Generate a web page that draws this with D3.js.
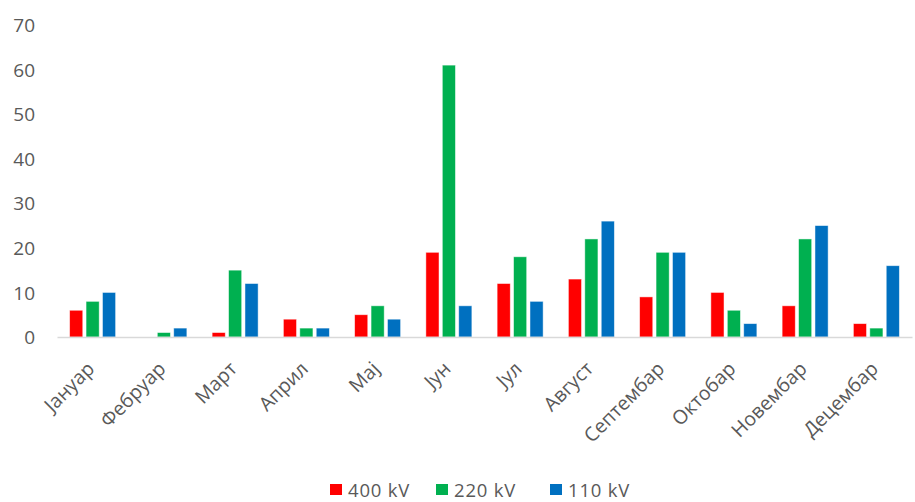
<!DOCTYPE html>
<html>
<head>
<meta charset="utf-8">
<script src="https://cdn.jsdelivr.net/npm/d3@7"></script>
<style>
  html, body { margin: 0; padding: 0; background: #fff; }
  svg text { font-family: "Open Sans", "Noto Sans", Arial, sans-serif; fill: #595959; }
</style>
</head>
<body>
<svg id="chart" width="915" height="502"></svg>
<script>
// Months (Serbian Cyrillic)
const months = ["Јануар", "Фебруар", "Март", "Април", "Мај", "Јун", "Јул", "Август", "Септембар", "Октобар", "Новембар", "Децембар"];
// Counts per voltage level
const kv400 = [6, 0, 1, 4, 5, 19, 12, 13, 9, 10, 7, 3];
const kv220 = [8, 1, 15, 2, 7, 61, 18, 22, 19, 6, 22, 2];
const kv110 = [10, 2, 12, 2, 4, 7, 8, 26, 19, 3, 25, 16];
const seriesNames = ["400 kV", "220 kV", "110 kV"];
const seriesColors = ["#FF0000", "#00B050", "#0070C0"];
const yTicks = [0, 10, 20, 30, 40, 50, 60, 70];

const seriesValues = [kv400, kv220, kv110];
const svg = d3.select("#chart");
const margin = { left: 57, right: 3, top: 25, bottom: 165 };
const W = 915, H = 502;

const x = d3.scaleBand().domain(months).range([margin.left, W - margin.right]).paddingInner(0).paddingOuter(0);
const y = d3.scaleLinear().domain([0, 70]).range([H - margin.bottom, margin.top]);
const groupW = 46;
const xs = d3.scaleBand().domain(seriesNames).range([0, groupW]).paddingInner(0.2);

// y axis labels (no axis line)
const yAxis = svg.append("g").attr("transform", `translate(${margin.left - 22},0)`)
  .call(d3.axisLeft(y).tickValues(yTicks).tickSize(0).tickPadding(0));
yAxis.select(".domain").remove();
yAxis.selectAll("text").style("font-size", "19px").style("font-family", "Open Sans, sans-serif").attr("fill", "#595959").attr("dy", "0.35em");

// bars
const groups = svg.append("g").selectAll("g").data(months).join("g")
  .attr("transform", d => `translate(${x(d) + x.bandwidth() / 2 - groupW / 2},0)`);
groups.selectAll("rect")
  .data((m, i) => seriesNames.map((s, k) => ({ s, k, v: seriesValues[k][i] })))
  .join("rect")
  .filter(d => d.v > 0)
  .attr("x", d => xs(d.s))
  .attr("width", xs.bandwidth())
  .attr("y", d => y(d.v))
  .attr("height", d => y(0) - y(d.v))
  .attr("fill", d => seriesColors[d.k])
  .attr("stroke", "#ffffff")
  .attr("stroke-opacity", 0.6)
  .attr("stroke-width", 0.8);

// x axis
const xAxis = svg.append("g").attr("transform", `translate(0,${y(0)})`)
  .call(d3.axisBottom(x).tickSize(0).tickPadding(0));
xAxis.select(".domain").attr("stroke", "#d9d9d9").attr("stroke-width", 1.5);
xAxis.selectAll("text")
  .style("font-size", "19.5px")
  .style("font-family", "Open Sans, sans-serif")
  .attr("text-anchor", "end")
  .attr("dy", null)
  .attr("transform", "translate(3,33) rotate(-45)");

// legend
const legendItems = [{ n: seriesNames[0], c: seriesColors[0], x: 330 }, { n: seriesNames[1], c: seriesColors[1], x: 436 }, { n: seriesNames[2], c: seriesColors[2], x: 550 }];
const lg = svg.append("g");
legendItems.forEach(it => {
  lg.append("rect").attr("x", it.x).attr("y", 484).attr("width", 12).attr("height", 11).attr("fill", it.c);
  lg.append("text").attr("x", it.x + 18).attr("y", 497).style("font-size", "18.5px").style("letter-spacing", "0.8px").text(it.n);
});
</script>
</body>
</html>
